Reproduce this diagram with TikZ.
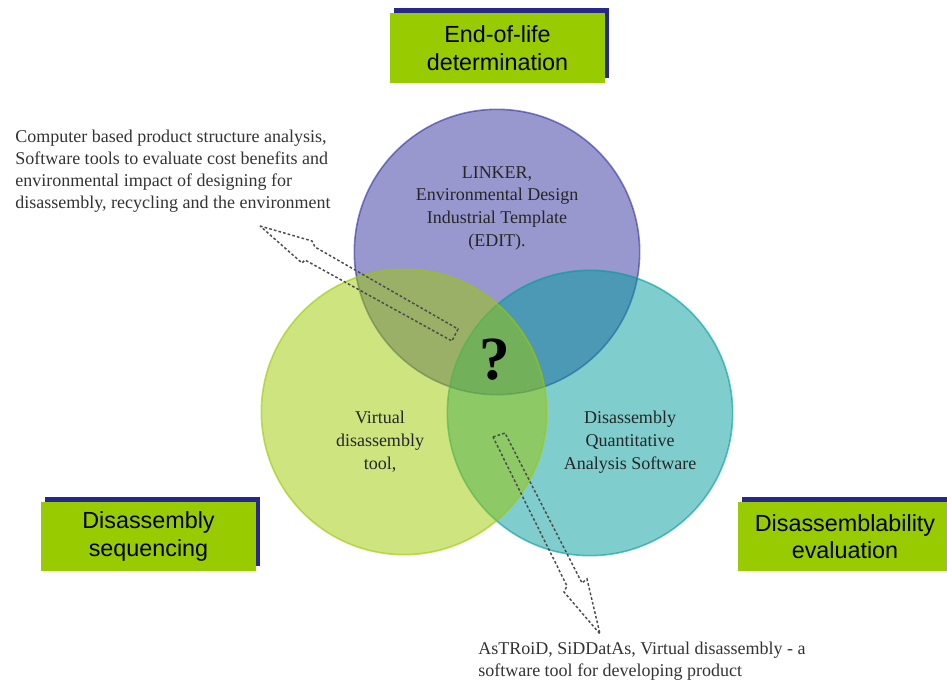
\documentclass[tikz,border=0pt]{standalone}
\usepackage{fontspec}
\setmainfont{Liberation Serif}
\newfontfamily\boxfont{Liberation Sans}
\usetikzlibrary{shadows}

\definecolor{eolblue}{RGB}{49,49,157}
\definecolor{evalteal}{RGB}{0,155,155}
\definecolor{seqgreen}{RGB}{155,201,0}
\definecolor{boxgreen}{RGB}{153,204,0}
\definecolor{boxnavy}{RGB}{40,40,140}

\tikzset{
    venn/.style={circle,minimum size=214pt,inner sep=0pt,fill opacity=0.5,
        draw opacity=0.6,line width=1.2pt},
    areabox/.style={fill=boxgreen,minimum width=161pt,minimum height=52pt,
        align=center,font=\boxfont\fontsize{17.5}{20.5}\selectfont,
        general shadow={fill=boxnavy,shadow xshift=3pt,shadow yshift=3.75pt}},
    tooltext/.style={align=center,inner sep=0pt,text=black!85,
        font=\fontsize{13.5}{17}\selectfont},
    notetext/.style={align=left,inner sep=0pt,text=black!80,
        font=\fontsize{13.5}{16.5}\selectfont},
    callout/.style={draw=black!70,dash pattern=on 2pt off 1.6pt,line width=1.1pt}
}

\begin{document}
\begin{tikzpicture}[x=0.75pt,y=-0.75pt]
    \useasboundingbox (0,0) rectangle (947,681);

    % the three circles
    \node[venn,fill=eolblue,draw=eolblue] (eol) at (497,252) {};
    \node[venn,fill=evalteal,draw=evalteal] (eval) at (590,413) {};
    \node[venn,fill=seqgreen,draw=seqgreen] (seq) at (404,412) {};

    \node[tooltext,anchor=north] (eoltools) at (497,166)
        {LINKER,\\Environmental Design\\Industrial Template\\(EDIT).};
    \node[tooltext,anchor=north] (seqtools) at (380,411)
        {Virtual\\disassembly\\tool,};
    \node[tooltext,anchor=north] (evaltools) at (630,411)
        {Disassembly\\Quantitative\\Analysis Software};
    \node[font=\bfseries\fontsize{46}{46}\selectfont] (gap) at (495,360) {?};

    % headings
    \node[areabox] (eolhead) at (497.5,48) {End-of-life\\determination};
    \node[areabox] (seqhead) at (148.5,536.5) {Disassembly\\sequencing};
    \node[areabox] (evalhead) at (845,536.5) {Disassemblability\\evaluation};

    % notes with dashed arrows
    \node[notetext,anchor=north west] (topnote) at (15,130)
        {Computer based product structure analysis,\\
         Software tools to evaluate cost benefits and\\
         environmental impact of designing for\\
         disassembly, recycling and the environment};
    \draw[callout] (260,226) -- (312,241) -- (315,247) -- (458,329)
        -- (452,341) -- (305,260) -- (302,263) -- cycle;

    \node[notetext,anchor=north west] (bottomnote) at (478,642)
        {AsTRoiD, SiDDatAs, Virtual disassembly - a\\
         software tool for developing product};
    \draw[callout] (493,437) -- (505,433) -- (582,583) -- (587,579)
        -- (600,634) -- (564,592) -- (567,586) -- cycle;
\end{tikzpicture}
\end{document}
